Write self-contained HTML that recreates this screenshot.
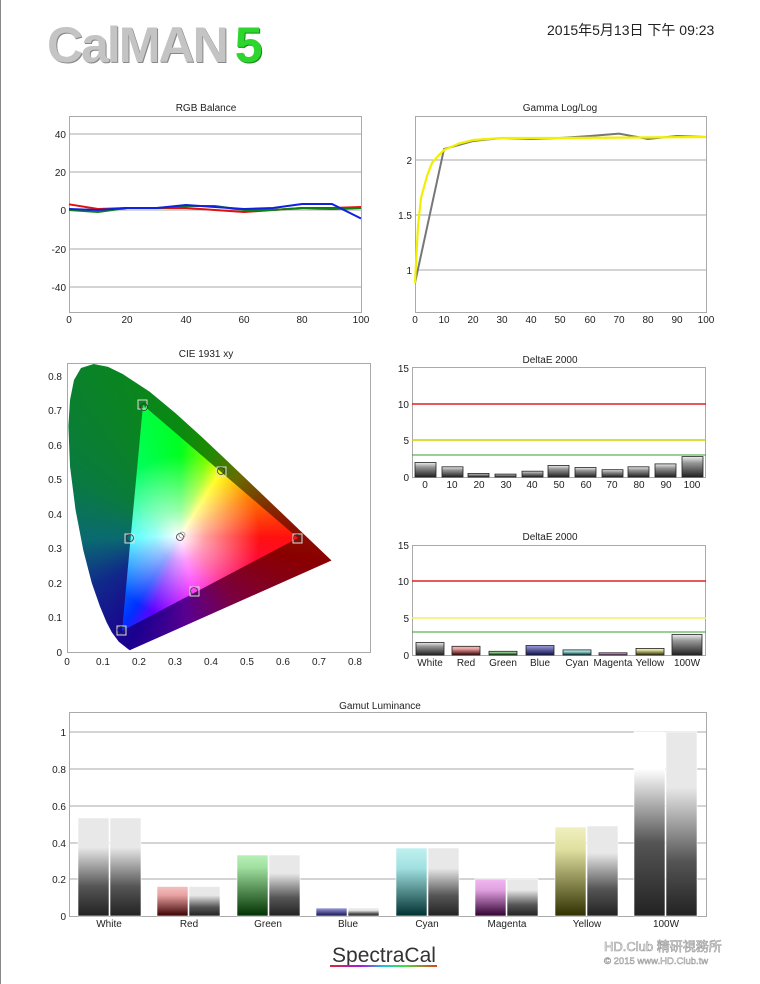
<!DOCTYPE html>
<html><head><meta charset="utf-8"><style>
body{margin:0;width:760px;height:984px;background:#fff;position:relative;overflow:hidden;font-family:"Liberation Sans","Noto Sans CJK TC",sans-serif}
.abs{position:absolute}
.horse{left:0;top:0;width:760px;height:984px;
clip-path:polygon(129.7px 650.3px,118.8px 641.8px,111.7px 632.1px,106.5px 622.1px,99.9px 606.2px,91.7px 582.8px,83.3px 550.2px,75.5px 509.6px,70px 466.3px,68.4px 426.1px,70px 400px,74px 380px,81px 368px,93.7px 364px,108.1px 366.9px,122.7px 374px,149.7px 391.8px,175.6px 413.2px,201.3px 436.5px,226.9px 460.6px,251.5px 484.1px,274.1px 505.7px,292.7px 523.5px,315.9px 545.6px,331.5px 560.5px);
background:conic-gradient(from 0deg at 180px 536px,#0a8a10 0deg,#208a00 20deg,#6a6a00 45deg,#8a1a00 80deg,#8a0000 100deg,#7a0040 140deg,#5a0090 175deg,#1a0090 205deg,#102a8a 240deg,#0a6a70 268deg,#0a7a40 300deg,#0a8a10 360deg)}
.tri{left:0;top:0;width:760px;height:984px;clip-path:polygon(143px 405px,298px 538px,122px 631px);
background:radial-gradient(circle at 180px 536px,rgba(255,255,255,1) 0px,rgba(255,255,255,.6) 25px,rgba(255,255,255,0) 80px),conic-gradient(from 0deg at 180px 536px,#00ff20 0deg,#80ff00 20deg,#ffff00 32deg,#ff8000 60deg,#ff1010 91deg,#ff0070 135deg,#ff00ff 166deg,#6000ff 200deg,#0030ff 212deg,#00a0ff 245deg,#00ffff 268deg,#00ff80 310deg,#00ff20 360deg)}
</style></head><body>
<div class="abs" style="left:0;top:0;width:1px;height:984px;background:#888"></div>
<div class="abs" style="left:47px;top:16px;font:bold 50px 'Liberation Sans',sans-serif;letter-spacing:-2px;color:#c4c4c4;text-shadow:1px 1px 0 #888">CalMAN<span style="color:#2cd62c;margin-left:8px;text-shadow:1px 1px 0 #1a8a1a">5</span></div>
<div class="abs" style="left:547px;top:20px;font-size:14px;color:#222">2015年5月13日 下午 09:23</div>
<div class="abs horse"></div>
<div class="abs tri"></div>
<svg class="abs" style="left:0;top:0" width="760" height="984" font-family="Liberation Sans, sans-serif" font-size="10" fill="#222">
<text x="206" y="111" text-anchor="middle">RGB Balance</text>
<rect x="69.5" y="116.5" width="292" height="196" fill="none" stroke="#aaa"/>
<g stroke="#aaa"><line x1="69" x2="361" y1="134" y2="134"/><line x1="69" x2="361" y1="172" y2="172"/><line x1="69" x2="361" y1="210" y2="210"/><line x1="69" x2="361" y1="249" y2="249"/><line x1="69" x2="361" y1="287" y2="287"/></g>
<g text-anchor="end"><text x="66" y="138">40</text><text x="66" y="176">20</text><text x="66" y="214">0</text><text x="66" y="253">-20</text><text x="66" y="291">-40</text></g>
<g text-anchor="middle"><text x="69" y="323">0</text><text x="127" y="323">20</text><text x="186" y="323">40</text><text x="244" y="323">60</text><text x="302" y="323">80</text><text x="361" y="323">100</text></g>
<g fill="none" stroke-width="2">
<polyline stroke="#e01010" points="69,204.3 98,209 127,208 157,208 186,208 215,210 244,212 273,210 302,208 332,208 361,207"/>
<polyline stroke="#108010" points="69,210 98,212 127,208 157,208 186,206 215,206 244,210 273,210 302,208 332,209 361,208"/>
<polyline stroke="#1020e0" points="69,209 98,210 127,208 157,208 186,205 215,207 244,209 273,208 302,204 332,204 361,218.5"/>
</g>
<text x="560" y="111" text-anchor="middle">Gamma Log/Log</text>
<rect x="415.5" y="116.5" width="291" height="196" fill="none" stroke="#aaa"/>
<g stroke="#aaa"><line x1="415" x2="706" y1="160" y2="160"/><line x1="415" x2="706" y1="215" y2="215"/><line x1="415" x2="706" y1="270" y2="270"/></g>
<g text-anchor="end"><text x="412" y="164">2</text><text x="412" y="219">1.5</text><text x="412" y="274">1</text></g>
<g text-anchor="middle"><text x="415" y="323">0</text><text x="444" y="323">10</text><text x="473" y="323">20</text><text x="502" y="323">30</text><text x="531" y="323">40</text><text x="560" y="323">50</text><text x="590" y="323">60</text><text x="619" y="323">70</text><text x="648" y="323">80</text><text x="677" y="323">90</text><text x="706" y="323">100</text></g>
<polyline fill="none" stroke="#777" stroke-width="2" points="415,283 444,149 473,141 502,138 531,139 560,138 590,136 619,133.6 648,139 677,136 706,137"/>
<polyline fill="none" stroke="#f0f000" stroke-width="2.2" points="415,283 418,226 421,198 427,176 432,163 438,156 444,150 459,143.5 473,140 502,138 560,138 706,137"/>
<text x="206" y="357" text-anchor="middle">CIE 1931 xy</text>
<rect x="67.5" y="363.5" width="303" height="289" fill="none" stroke="#aaa"/>
<g text-anchor="end"><text x="62" y="380">0.8</text><text x="62" y="414">0.7</text><text x="62" y="449">0.6</text><text x="62" y="483">0.5</text><text x="62" y="518">0.4</text><text x="62" y="552">0.3</text><text x="62" y="587">0.2</text><text x="62" y="621">0.1</text><text x="62" y="656">0</text></g>
<g text-anchor="middle"><text x="67" y="665">0</text><text x="103" y="665">0.1</text><text x="139" y="665">0.2</text><text x="175" y="665">0.3</text><text x="211" y="665">0.4</text><text x="247" y="665">0.5</text><text x="283" y="665">0.6</text><text x="319" y="665">0.7</text><text x="355" y="665">0.8</text></g>
<g fill="none" stroke="#ddd" stroke-width="1"><rect x="138" y="400" width="9" height="9"/><rect x="217" y="467" width="9" height="9"/><rect x="293" y="534" width="9" height="9"/><rect x="190" y="587" width="9" height="9"/><rect x="117" y="626" width="9" height="9"/><rect x="125" y="534" width="9" height="9"/></g>
<g fill="none" stroke="#333" stroke-width="0.8"><circle cx="144" cy="407" r="3.5"/><circle cx="221" cy="471" r="3.5"/><circle cx="297" cy="538" r="3.5"/><circle cx="194" cy="591" r="3.5"/><circle cx="121" cy="630" r="3.5"/><circle cx="130" cy="538" r="3.5"/><circle cx="180" cy="537" r="3.5"/><circle cx="182" cy="535" r="3" stroke="#999"/></g>
<defs>
<linearGradient id="gb" x1="0" y1="0" x2="0" y2="1"><stop offset="0" stop-color="#eee"/><stop offset="0.3" stop-color="#999"/><stop offset="1" stop-color="#222"/></linearGradient>
<linearGradient id="gw" x1="0" y1="0" x2="0" y2="1"><stop offset="0" stop-color="#e8e8e8"/><stop offset="0.3" stop-color="#e8e8e8"/><stop offset="0.7" stop-color="#555"/><stop offset="1" stop-color="#222"/></linearGradient>
<linearGradient id="gr" x1="0" y1="0" x2="0" y2="1"><stop offset="0" stop-color="#f4c0c0"/><stop offset="0.3" stop-color="#e8a0a0"/><stop offset="1" stop-color="#3a0000"/></linearGradient>
<linearGradient id="gg" x1="0" y1="0" x2="0" y2="1"><stop offset="0" stop-color="#b8f0b8"/><stop offset="0.2" stop-color="#a0e0a0"/><stop offset="1" stop-color="#003000"/></linearGradient>
<linearGradient id="gbl" x1="0" y1="0" x2="0" y2="1"><stop offset="0" stop-color="#a0a0e0"/><stop offset="1" stop-color="#101050"/></linearGradient>
<linearGradient id="gc" x1="0" y1="0" x2="0" y2="1"><stop offset="0" stop-color="#c0f0f0"/><stop offset="0.3" stop-color="#a0e0e0"/><stop offset="1" stop-color="#003030"/></linearGradient>
<linearGradient id="gm" x1="0" y1="0" x2="0" y2="1"><stop offset="0" stop-color="#f0b8f0"/><stop offset="0.3" stop-color="#e0a0e0"/><stop offset="1" stop-color="#300030"/></linearGradient>
<linearGradient id="gy" x1="0" y1="0" x2="0" y2="1"><stop offset="0" stop-color="#f0f0c0"/><stop offset="0.25" stop-color="#e0e0a0"/><stop offset="1" stop-color="#303000"/></linearGradient>
<linearGradient id="g100" x1="0" y1="0" x2="0" y2="1"><stop offset="0" stop-color="#fff"/><stop offset="0.2" stop-color="#fff"/><stop offset="0.6" stop-color="#555"/><stop offset="1" stop-color="#222"/></linearGradient>
</defs>
<text x="550" y="363" text-anchor="middle">DeltaE 2000</text>
<rect x="412.5" y="367.5" width="293" height="110" fill="none" stroke="#aaa"/>
<line x1="412" x2="706" y1="404" y2="404" stroke="#e02020" stroke-width="1.5"/>
<line x1="412" x2="706" y1="440" y2="440" stroke="#d0d000" stroke-width="1.5"/>
<line x1="412" x2="706" y1="455" y2="455" stroke="#30a030" stroke-width="1"/>
<g text-anchor="end"><text x="409" y="372">15</text><text x="409" y="408">10</text><text x="409" y="444">5</text><text x="409" y="481">0</text></g>
<g stroke="#222" stroke-width="0.8" fill="url(#gb)">
<rect x="415" y="462.5" width="21" height="14.5"/><rect x="442" y="466.8" width="21" height="10.2"/><rect x="468" y="473.4" width="21" height="3.6"/><rect x="495" y="474.1" width="21" height="2.9"/><rect x="522" y="471.2" width="21" height="5.8"/><rect x="548" y="465.4" width="21" height="11.6"/><rect x="575" y="467.5" width="21" height="9.5"/><rect x="602" y="469.7" width="21" height="7.3"/><rect x="628" y="466.8" width="21" height="10.2"/><rect x="655" y="463.9" width="21" height="13.1"/><rect x="682" y="456.6" width="21" height="20.4"/></g>
<g text-anchor="middle"><text x="425" y="488">0</text><text x="452" y="488">10</text><text x="479" y="488">20</text><text x="506" y="488">30</text><text x="532" y="488">40</text><text x="559" y="488">50</text><text x="586" y="488">60</text><text x="612" y="488">70</text><text x="639" y="488">80</text><text x="666" y="488">90</text><text x="692" y="488">100</text></g>
<text x="550" y="540" text-anchor="middle">DeltaE 2000</text>
<rect x="412.5" y="545.5" width="293" height="110" fill="none" stroke="#aaa"/>
<line x1="412" x2="706" y1="581" y2="581" stroke="#e02020" stroke-width="1.5"/>
<line x1="412" x2="706" y1="618" y2="618" stroke="#f0f060" stroke-width="1.5"/>
<line x1="412" x2="706" y1="632" y2="632" stroke="#30a030" stroke-width="1"/>
<g text-anchor="end"><text x="409" y="549">15</text><text x="409" y="585">10</text><text x="409" y="622">5</text><text x="409" y="659">0</text></g>
<g stroke="#222" stroke-width="0.8">
<rect x="416" y="642.5" width="28" height="12.5" fill="url(#gb)"/><rect x="452" y="646.3" width="28" height="8.7" fill="url(#gr)"/><rect x="489" y="651.3" width="28" height="3.7" fill="url(#gg)"/><rect x="526" y="645.5" width="28" height="9.5" fill="url(#gbl)"/><rect x="563" y="649.9" width="28" height="5.1" fill="url(#gc)"/><rect x="599" y="652.8" width="28" height="2.2" fill="url(#gm)"/><rect x="636" y="648.4" width="28" height="6.6" fill="url(#gy)"/><rect x="672" y="634.5" width="30" height="20.5" fill="url(#gb)"/></g>
<g text-anchor="middle"><text x="430" y="666">White</text><text x="466" y="666">Red</text><text x="503" y="666">Green</text><text x="540" y="666">Blue</text><text x="577" y="666">Cyan</text><text x="613" y="666">Magenta</text><text x="650" y="666">Yellow</text><text x="687" y="666">100W</text></g>
<text x="380" y="709" text-anchor="middle">Gamut Luminance</text>
<rect x="69.5" y="712.5" width="637" height="204" fill="none" stroke="#aaa"/>
<g stroke="#aaa"><line x1="69" x2="706" y1="732" y2="732"/><line x1="69" x2="706" y1="769" y2="769"/><line x1="69" x2="706" y1="806" y2="806"/><line x1="69" x2="706" y1="843" y2="843"/><line x1="69" x2="706" y1="879" y2="879"/></g>
<g text-anchor="end"><text x="66" y="736">1</text><text x="66" y="773">0.8</text><text x="66" y="810">0.6</text><text x="66" y="847">0.4</text><text x="66" y="883">0.2</text><text x="66" y="920">0</text></g>
<g stroke="#fff" stroke-width="0.6">
<rect x="78" y="818" width="31" height="98" fill="url(#gw)"/><rect x="110" y="818" width="31" height="98" fill="url(#gw)"/>
<rect x="157" y="886.5" width="31" height="29.5" fill="url(#gr)"/><rect x="189" y="886.5" width="31" height="29.5" fill="url(#gw)"/>
<rect x="237" y="855" width="31" height="61" fill="url(#gg)"/><rect x="269" y="855" width="31" height="61" fill="url(#gw)"/>
<rect x="316" y="908" width="31" height="8" fill="url(#gbl)"/><rect x="348" y="908" width="31" height="8" fill="url(#gw)"/>
<rect x="396" y="848" width="31" height="68" fill="url(#gc)"/><rect x="428" y="848" width="31" height="68" fill="url(#gw)"/>
<rect x="475" y="879" width="31" height="37" fill="url(#gm)"/><rect x="507" y="879" width="31" height="37" fill="url(#gw)"/>
<rect x="555" y="827" width="31" height="89" fill="url(#gy)"/><rect x="587" y="826" width="31" height="90" fill="url(#gw)"/>
<rect x="634" y="732" width="31" height="184" fill="url(#g100)"/><rect x="666" y="732" width="31" height="184" fill="url(#gw)"/></g>
<g text-anchor="middle"><text x="109" y="927">White</text><text x="189" y="927">Red</text><text x="268" y="927">Green</text><text x="348" y="927">Blue</text><text x="427" y="927">Cyan</text><text x="507" y="927">Magenta</text><text x="587" y="927">Yellow</text><text x="666" y="927">100W</text></g>
<text x="384" y="962" text-anchor="middle" font-size="21" fill="#333">SpectraCal</text>
<defs><linearGradient id="rb"><stop offset="0" stop-color="#e02040"/><stop offset=".3" stop-color="#a020e0"/><stop offset=".5" stop-color="#20c0e0"/><stop offset=".7" stop-color="#40e040"/><stop offset="1" stop-color="#e04020"/></linearGradient></defs>
<rect x="330" y="965" width="107" height="2" fill="url(#rb)"/>
<text x="604" y="951" font-size="13" fill="#f4f4f4" stroke="#999" stroke-width="0.6">HD.Club 精研視務所</text>
<text x="604" y="964" font-size="9.5" fill="#f4f4f4" stroke="#999" stroke-width="0.5">© 2015  www.HD.Club.tw</text>
</svg>
</body></html>
